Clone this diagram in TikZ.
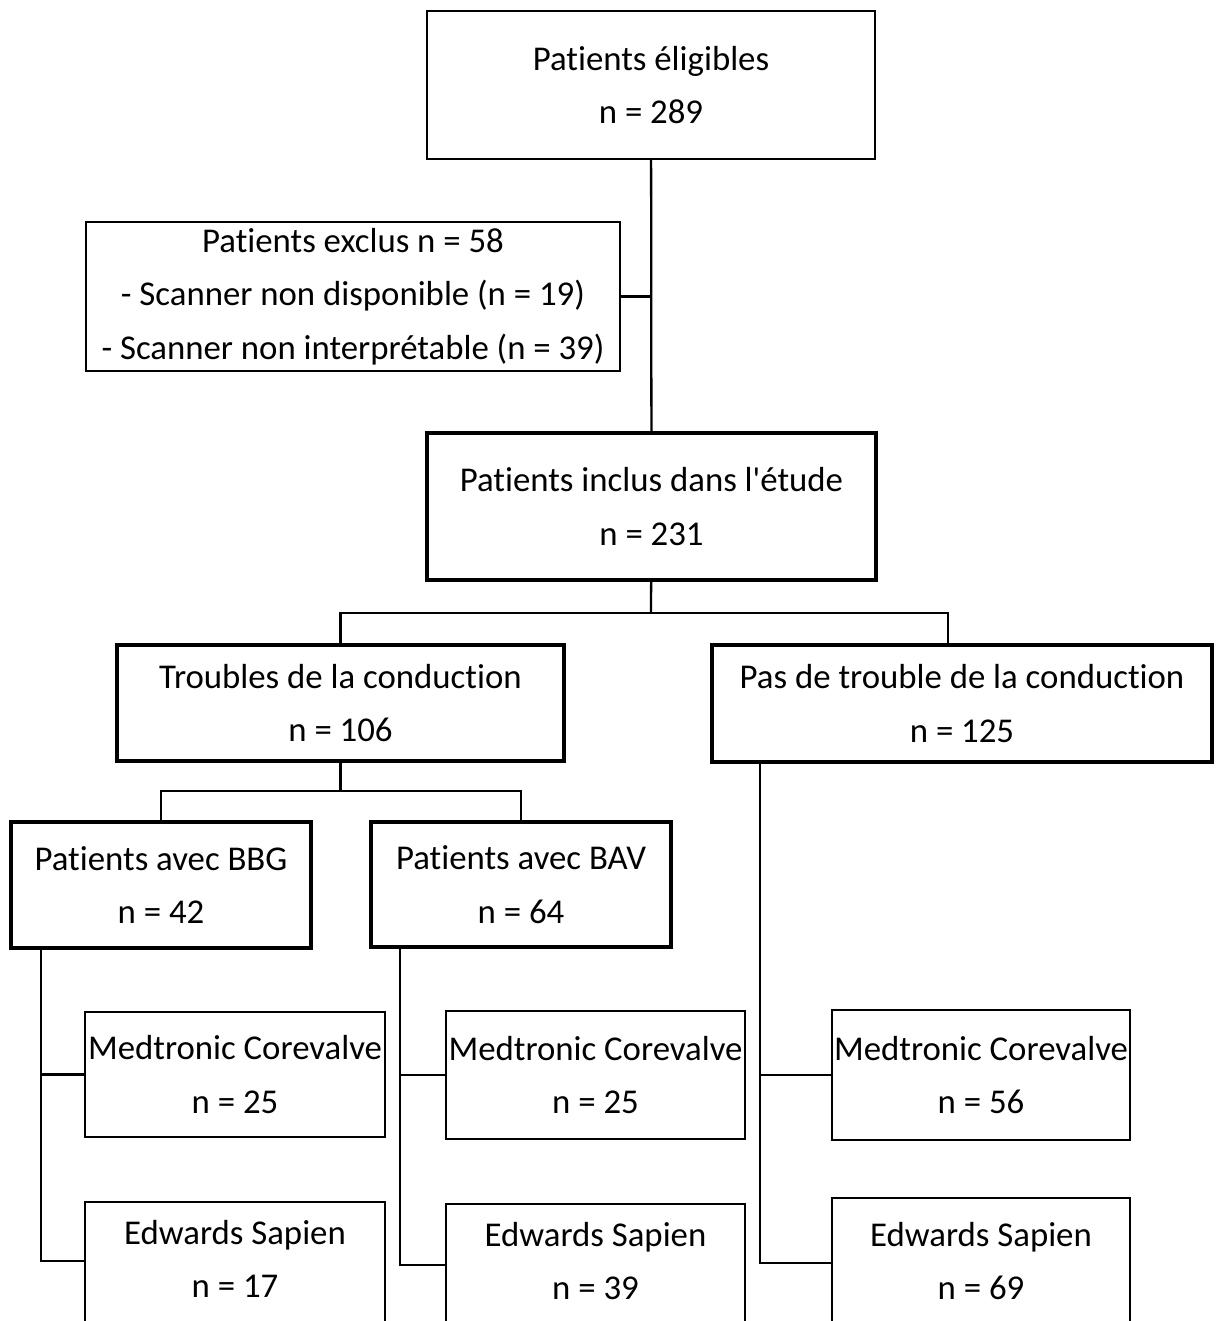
\documentclass[tikz,border=0pt]{standalone}
\usepackage{fontspec}
\setmainfont{Carlito}[Ligatures=NoCommon]
\tikzset{
  box/.style={draw, line width=1.1pt, align=center, inner sep=0pt,
    font=\fontsize{19.8}{30.6}\selectfont},
  thickbox/.style={box, line width=2.4pt},
  openbox/.style={box, anchor=north, inner ysep=0.36cm},
  link/.style={line width=1.3pt},
}
% last line of a box that runs off the bottom of the page
\newcommand\runoff{\rule[-2cm]{0pt}{0pt}}
\begin{document}
\begin{tikzpicture}[x=0.02cm, y=-0.02cm]
    \useasboundingbox (0,0) rectangle (1217,1321);
    \clip (0,0) rectangle (1217,1321);
    % selection
    \node [box, minimum width=8.96cm, minimum height=2.96cm] (elig) at (651,85) {Patients éligibles\\n = 289};
    \node [box, minimum width=10.68cm, minimum height=2.98cm] (excl) at (353,296.5)
      {Patients exclus n = 58\\- Scanner non disponible (n = 19)\\- Scanner non interprétable (n = 39)};
    \node [thickbox, minimum width=8.98cm, minimum height=2.94cm] (incl) at (651.5,506.5) {Patients inclus dans l\textquotesingle étude\\n = 231};
    \draw [link] (elig) -- (incl);
    \draw [link] (excl.east) -- (excl.east -| elig.south);
    % conduction
    \node [thickbox, minimum width=8.94cm, minimum height=2.32cm] (trbl) at (340.5,703) {Troubles de la conduction\\n = 106};
    \node [thickbox, minimum width=10cm, minimum height=2.34cm] (pas) at (962,703.5) {Pas de trouble de la conduction\\n = 125};
    \coordinate (split) at (651,613);
    \draw [link] (incl) -- (split);
    \draw [link] (trbl.north) |- (split) -| ([xshift=-0.28cm]pas.north);
    \node [thickbox, minimum width=6cm, minimum height=2.52cm] (bbg) at (161,885) {Patients avec BBG\\n = 42};
    \node [thickbox, minimum width=6cm, minimum height=2.5cm] (bav) at (521,884.5) {Patients avec BAV\\n = 64};
    \coordinate (splittr) at (340.5,791);
    \draw [link] (trbl) -- (splittr);
    \draw [link] (bbg.north) |- (splittr) -| (bav.north);
    % valves
    \node [box, minimum width=6cm, minimum height=2.5cm] (med1) at (235,1074.5) {Medtronic Corevalve\\n = 25};
    \node [box, minimum width=5.98cm, minimum height=2.56cm] (med2) at (595.5,1075) {Medtronic Corevalve\\n = 25};
    \node [box, minimum width=5.96cm, minimum height=2.6cm] (med3) at (981,1075) {Medtronic Corevalve\\n = 56};
    \node [openbox, minimum width=6cm] (edw1) at (235,1201) {Edwards Sapien\\n = 17\runoff};
    \node [openbox, minimum width=5.98cm] (edw2) at (595.5,1203) {Edwards Sapien\\n = 39\runoff};
    \node [openbox, minimum width=5.96cm, inner ysep=0.48cm] (edw3) at (981,1197) {Edwards Sapien\\n = 69\runoff};
    \draw [link] ([xshift=0.64cm]bbg.south west) |- (med1.west);
    \draw [link] ([xshift=0.64cm]bbg.south west) |- ([yshift=-1.2cm]edw1.north west);
    \draw [link] ([xshift=0.62cm]bav.south west) |- (med2.west);
    \draw [link] ([xshift=0.62cm]bav.south west) |- ([yshift=-1.24cm]edw2.north west);
    \draw [link] ([xshift=1cm]pas.south west) |- (med3.west);
    \draw [link] ([xshift=1cm]pas.south west) |- ([yshift=-1.32cm]edw3.north west);
\end{tikzpicture}
\end{document}
